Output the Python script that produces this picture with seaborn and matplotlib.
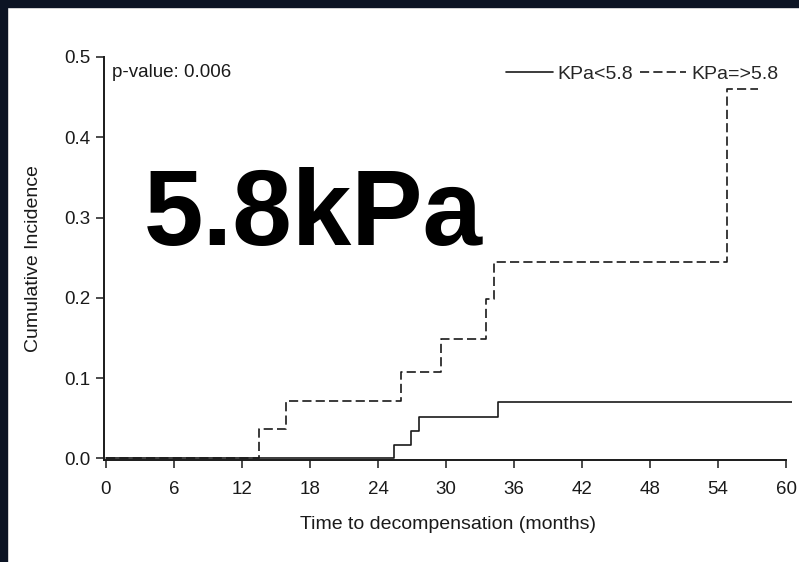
import matplotlib
matplotlib.use("Agg")
import matplotlib.pyplot as plt
import seaborn as sns
import pandas as pd
from matplotlib.patches import Rectangle

# ---- data ----
group_labels = ["KPa<5.8", "KPa=>5.8"]
time_low = [0, 25.4, 26.9, 27.6, 34.6, 60.5]
cuminc_low = [0, 0.017, 0.034, 0.051, 0.070, 0.070]
time_high = [0, 13.5, 15.9, 26.0, 29.6, 33.5, 34.2, 54.8, 57.5]
cuminc_high = [0, 0.036, 0.071, 0.108, 0.149, 0.198, 0.245, 0.460, 0.460]
x_ticks = [0, 6, 12, 18, 24, 30, 36, 42, 48, 54, 60]
y_ticks = [0.0, 0.1, 0.2, 0.3, 0.4, 0.5]
p_text = "p-value: 0.006"
overlay_text = "5.8kPa"

df = pd.concat([
    pd.DataFrame({"time": time_low, "cuminc": cuminc_low, "group": group_labels[0]}),
    pd.DataFrame({"time": time_high, "cuminc": cuminc_high, "group": group_labels[1]}),
], ignore_index=True)

sns.set_style("ticks")
plt.rcParams["font.family"] = ["Liberation Sans", "DejaVu Sans"]

ink = "#1a1a1a"
fig = plt.figure(figsize=(7.99, 5.62), dpi=100)
ax = fig.add_axes([0.1298, 0.1815, 0.8611, 0.7171])

sns.lineplot(data=df, x="time", y="cuminc", hue="group", style="group",
             palette={group_labels[0]: ink, group_labels[1]: ink},
             dashes={group_labels[0]: "", group_labels[1]: (5.5, 2.5)},
             drawstyle="steps-post", estimator=None, linewidth=1.2,
             ax=ax, legend=True)

ax.set_xlim(-0.2, 60.5)
ax.set_ylim(-0.002, 0.5)
ax.set_xticks(x_ticks)
ax.set_yticks(y_ticks)
ax.set_yticklabels([f"{v:.1f}" for v in y_ticks])
for s in ["top", "right"]:
    ax.spines[s].set_visible(False)
ax.spines["bottom"].set_bounds(-0.2, 60)
for s in ["left", "bottom"]:
    ax.spines[s].set_linewidth(1.4)
    ax.spines[s].set_color(ink)
ax.tick_params(axis="both", length=5.8, width=1.1, color=ink, labelsize=13.5, labelcolor=ink)
ax.tick_params(axis="x", pad=9)
ax.tick_params(axis="y", pad=4)
ax.set_xlabel("Time to decompensation (months)", fontsize=14, color=ink, labelpad=13)
ax.set_ylabel("Cumulative Incidence", fontsize=14, color=ink, labelpad=16)

handles, labels = ax.get_legend_handles_labels()
ax.legend(handles, labels, ncol=2, loc="upper right", bbox_to_anchor=(0.992, 0.998),
          frameon=False, fontsize=14, handlelength=2.4, handletextpad=0.25,
          columnspacing=0.35, borderaxespad=0.0)

ax.text(0.012, 0.950, p_text, transform=ax.transAxes, fontsize=13.5,
        color=ink, ha="left", va="baseline")

fig.text(144 / 799, (562 - 245) / 562, overlay_text, fontsize=77, fontweight="bold",
         color="black", ha="left", va="baseline")

# dark frame edges of the screenshot
navy = "#0c1424"
fig.patches.append(Rectangle((0, 1 - 7 / 562), 1, 7 / 562, transform=fig.transFigure,
                             color=navy, zorder=10))
fig.patches.append(Rectangle((0, 0), 7 / 799, 1, transform=fig.transFigure,
                             color=navy, zorder=10))

fig.savefig("out.png", dpi=100)
